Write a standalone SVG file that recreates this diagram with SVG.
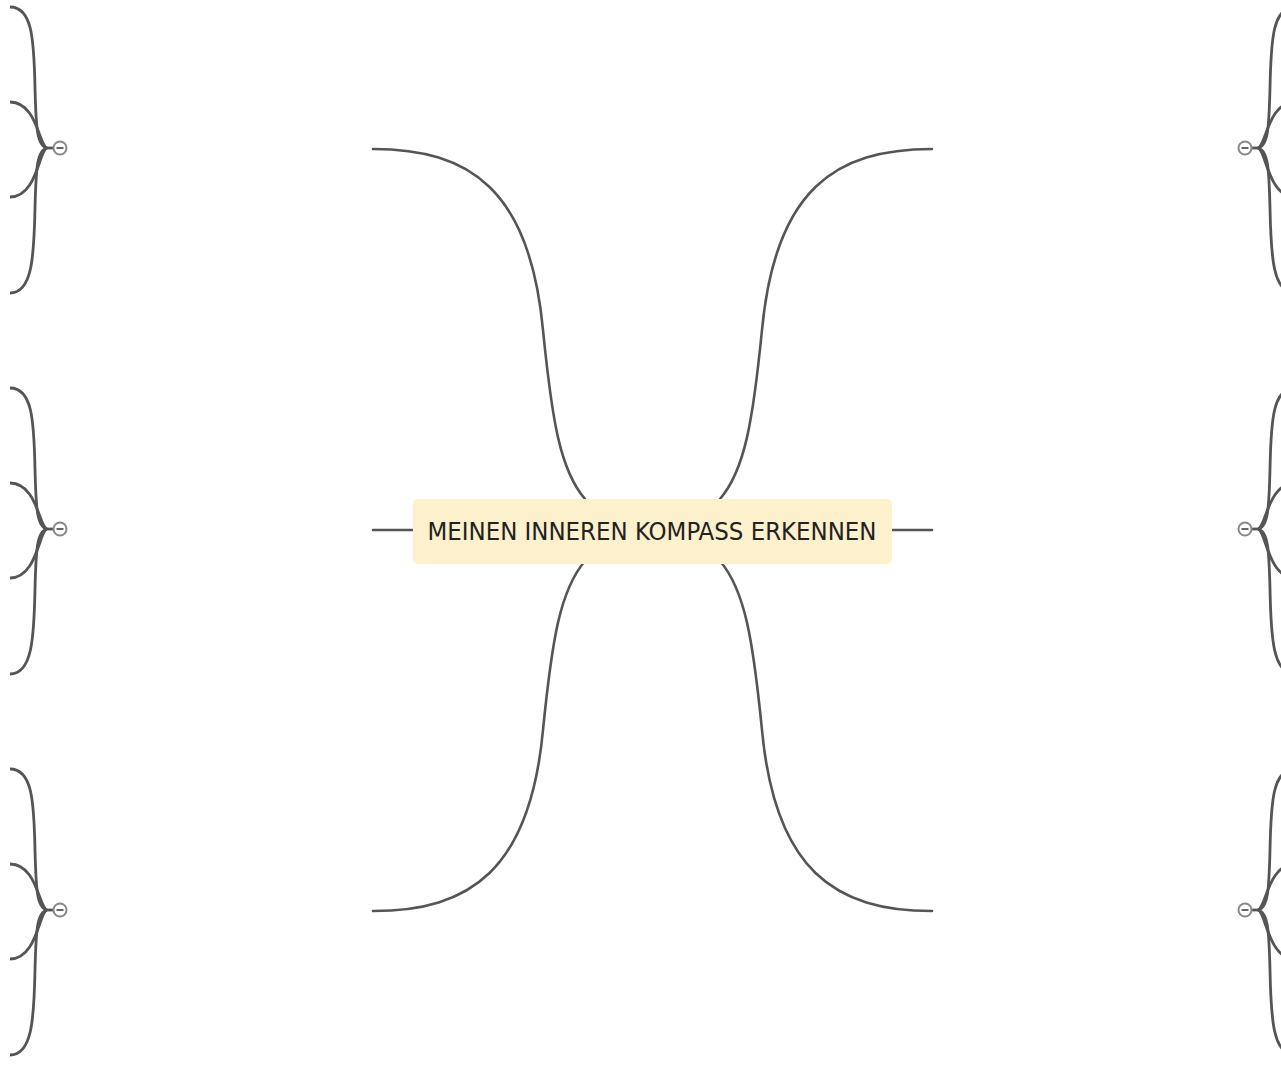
<svg xmlns="http://www.w3.org/2000/svg" width="1281" height="1079" viewBox="0 0 1281 1079">
<style>
.c{fill:none;stroke:#555;stroke-width:2.6;stroke-linecap:round}
.b{fill:none;stroke:#555;stroke-width:2.8}
.t{font-family:"DejaVu Sans Condensed","DejaVu Sans",sans-serif;font-size:24px;fill:#222}
.tog{fill:#fff;stroke:#888;stroke-width:2}
.m{stroke:#666;stroke-width:2}
</style>
<defs>
<g id="grp">
<path class="b" d="M47,0 C37,-2 36,-20 35,-60 C34,-110 32,-141 10,-141"/>
<path class="b" d="M47,0 C39,-2 37,-46 10,-46"/>
<path class="b" d="M47,0 C39,2 37,49 10,49"/>
<path class="b" d="M47,0 C37,2 36,20 35,60 C34,110 32,145 10,145"/>
<line class="b" x1="45" y1="0" x2="54" y2="0"/>
<circle class="tog" cx="60" cy="0" r="6.5"/>
<line class="m" x1="56.5" y1="0" x2="63.5" y2="0"/>
</g>
</defs>
<g id="connectors">
<line class="c" x1="373" y1="530" x2="413" y2="530"/>
<line class="c" x1="892" y1="530" x2="932" y2="530"/>
<path class="c" d="M373,149 C470,149 530,190 543,330 C552,420 560,470 585,499"/>
<path class="c" d="M932,149 C835,149 775,190 762,330 C753,420 745,470 720,499"/>
<path class="c" d="M373,911 C470,911 530,870 543,730 C552,640 560,590 585,561"/>
<path class="c" d="M932,911 C835,911 775,870 762,730 C753,640 745,590 720,561"/>
</g>
<g id="left-1"><use href="#grp" transform="translate(0,148)"/></g>
<g id="left-2"><use href="#grp" transform="translate(0,529)"/></g>
<g id="left-3"><use href="#grp" transform="translate(0,910)"/></g>
<g id="right-1"><use href="#grp" transform="translate(1305,148) scale(-1,1)"/></g>
<g id="right-2"><use href="#grp" transform="translate(1305,529) scale(-1,1)"/></g>
<g id="right-3"><use href="#grp" transform="translate(1305,910) scale(-1,1)"/></g>
<g id="center">
<rect x="413" y="499" width="479" height="65" rx="5" fill="#fdf0cc"/>
<text class="t" x="652" y="540" text-anchor="middle" textLength="449" lengthAdjust="spacingAndGlyphs">MEINEN INNEREN KOMPASS ERKENNEN</text>
</g>
</svg>
